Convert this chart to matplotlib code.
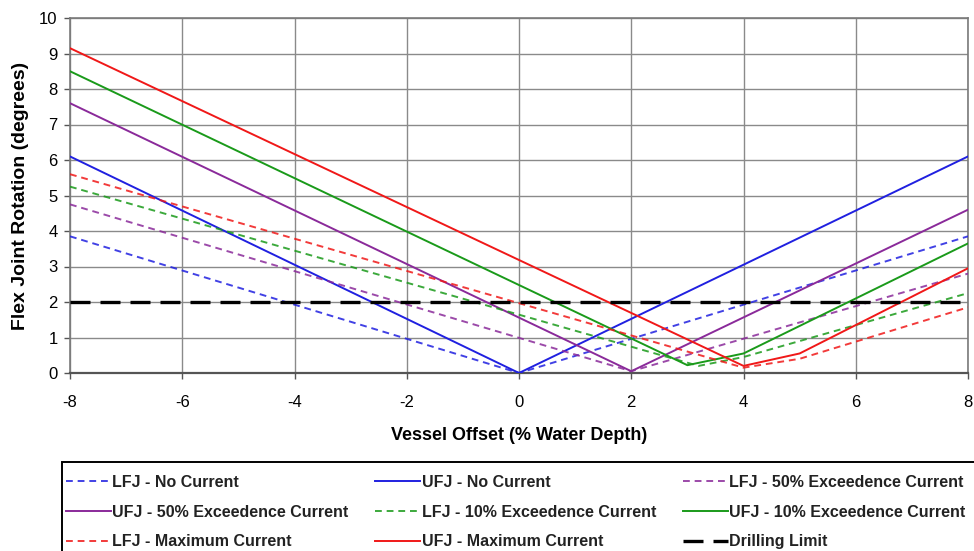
import matplotlib
matplotlib.use("Agg")
import matplotlib.pyplot as plt
from matplotlib.patches import Rectangle

# ---- data ----
lfj_no_x = [-8, 0, 8]
lfj_no_y = [3.85, 0.0, 3.85]
ufj_no_x = [-8, 0, 8]
ufj_no_y = [6.1, 0.0, 6.1]
lfj_50_x = [-8, 2, 8]
lfj_50_y = [4.75, 0.05, 2.8]
ufj_50_x = [-8, 2, 8]
ufj_50_y = [7.6, 0.05, 4.6]
lfj_10_x = [-8, 3.2, 4, 8]
lfj_10_y = [5.25, 0.2, 0.45, 2.25]
ufj_10_x = [-8, 3, 4, 8]
ufj_10_y = [8.5, 0.22, 0.55, 3.65]
lfj_max_x = [-8, 4, 5, 8]
lfj_max_y = [5.6, 0.15, 0.4, 1.85]
ufj_max_x = [-8, 4, 5, 8]
ufj_max_y = [9.15, 0.2, 0.55, 2.95]
drill_x = [-8, 8]
drill_y = [2, 2]

labels = ["LFJ - No Current", "UFJ - No Current", "LFJ - 50% Exceedence Current",
          "UFJ - 50% Exceedence Current", "LFJ - 10% Exceedence Current", "UFJ - 10% Exceedence Current",
          "LFJ - Maximum Current", "UFJ - Maximum Current", "Drilling Limit"]
x_ticks = [-8, -6, -4, -2, 0, 2, 4, 6, 8]
y_ticks = list(range(0, 11))

plt.rcParams['font.family'] = ['Liberation Sans', 'DejaVu Sans']
plt.rcParams['axes.unicode_minus'] = False

W, H = 974, 551
fig = plt.figure(figsize=(W/100, H/100), dpi=100)
ax = fig.add_axes([70/W, 1-373/H, 898/W, 355/H])

blue, purple, green, red = "#2020e0", "#8a2a9a", "#1a9a1a", "#f01818"
dash = (0, (3.5, 2.5))
lw = 1.4
series = [
    (lfj_no_x, lfj_no_y, blue, dash),
    (ufj_no_x, ufj_no_y, blue, '-'),
    (lfj_50_x, lfj_50_y, purple, dash),
    (ufj_50_x, ufj_50_y, purple, '-'),
    (lfj_10_x, lfj_10_y, green, dash),
    (ufj_10_x, ufj_10_y, green, '-'),
    (lfj_max_x, lfj_max_y, red, dash),
    (ufj_max_x, ufj_max_y, red, '-'),
]
handles = []
for (xs, ys, c, ls), lab in zip(series, labels[:8]):
    h, = ax.plot(xs, ys, color=c, linestyle=ls, linewidth=lw, label=lab, zorder=3,
                 alpha=0.85 if ls != '-' else 1.0)
    handles.append(h)
h, = ax.plot(drill_x, drill_y, color="black", linestyle=(0, (6, 3)), linewidth=2.4,
             label=labels[8], zorder=4)
handles.append(h)

ax.set_xlim(-8, 8)
ax.set_ylim(0, 10)
ax.set_xticks(x_ticks)
ax.set_yticks(y_ticks)
ax.grid(True, color="#8a8a8a", linewidth=1.0)
ax.set_axisbelow(True)
for s in ax.spines.values():
    s.set_color("#7a7a7a")
    s.set_linewidth(1.2)
ax.spines['bottom'].set_color("#555555")
ax.spines['bottom'].set_linewidth(1.6)
ax.tick_params(axis='both', labelsize=12, color="#555555", length=4, width=1)
ax.tick_params(axis='x', pad=12)
ax.tick_params(axis='y', pad=5)
ax.set_xlabel("Vessel Offset (% Water Depth)", fontsize=13, fontweight='bold', labelpad=12)
ax.set_ylabel("Flex Joint Rotation (degrees)", fontsize=14, fontweight='bold', labelpad=7)

# legend box (frame drawn separately, running off the right/bottom edges like the reference)
fig.patches.append(Rectangle((62/W, -0.05), 0.99, (1-462/H) + 0.05, transform=fig.transFigure,
                             facecolor='white', edgecolor='black', linewidth=1.4, zorder=0))

order = [0, 3, 6, 1, 4, 7, 2, 5, 8]
leg = fig.legend([handles[i] for i in order], [labels[i] for i in order],
                 loc='upper left', bbox_to_anchor=(66/W, 1-475/H),
                 ncol=3, fontsize=11.5, frameon=False,
                 handlelength=2.8, handletextpad=0.1,
                 labelspacing=0.92, borderpad=0, borderaxespad=0,
                 columnspacing=1.68)
for t in leg.get_texts():
    t.set_fontweight('bold')
    t.set_color('#222222')

fig.savefig("out.png", dpi=100)
